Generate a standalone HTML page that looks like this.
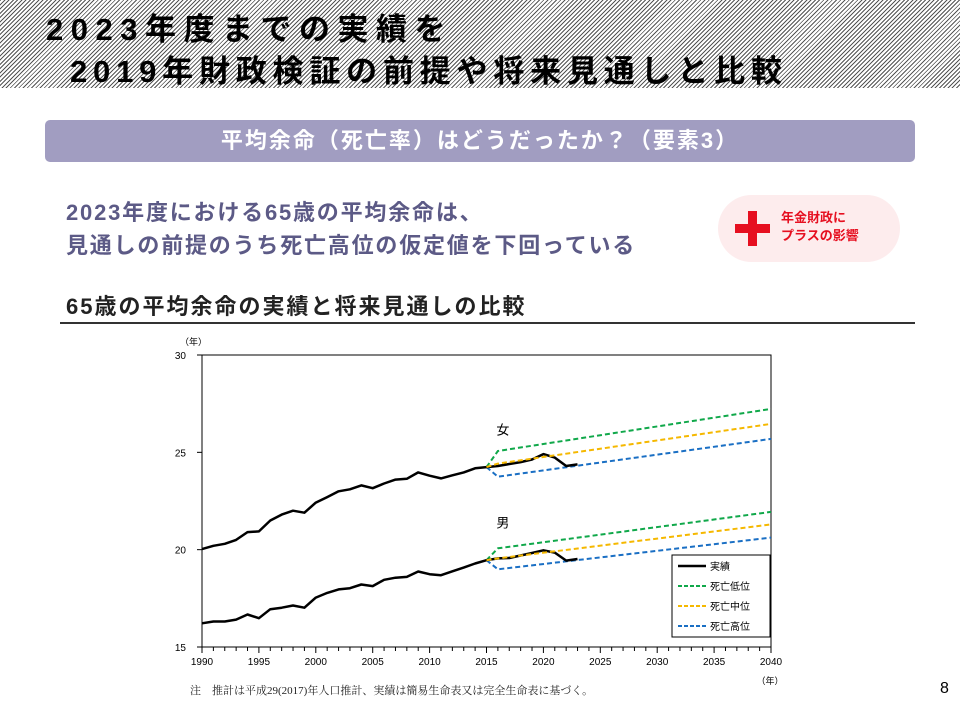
<!DOCTYPE html>
<html><head><meta charset="utf-8">
<style>
body{margin:0;width:960px;height:720px;position:relative;background:#fff;font-family:"Liberation Sans","Noto Sans CJK JP",sans-serif;overflow:hidden}
.abs{position:absolute}
#banner{left:0;top:0;width:960px;height:88px;background:repeating-linear-gradient(135deg,#555 0 1px,#fff 1px 3px)}
.tl{font-weight:bold;font-size:31px;color:#000;white-space:nowrap}
</style></head><body>
<div id="banner" class="abs"></div>
<div class="abs tl" style="left:46px;top:4px;letter-spacing:7.5px">2023年度までの実績を</div>
<div class="abs tl" style="left:70px;top:46px;letter-spacing:5.8px">2019年財政検証の前提や将来見通しと比較</div>
<div class="abs" style="left:45px;top:120px;width:870px;height:42px;background:#a19dc1;border-radius:5px;color:#fff;font-weight:bold;font-size:22px;line-height:42px;text-align:center;letter-spacing:2px">平均余命（死亡率）はどうだったか？（要素3）</div>
<div class="abs" style="left:66px;top:196px;font-size:22px;font-weight:bold;color:#5c5a86;line-height:33px;letter-spacing:1.8px;white-space:nowrap">2023年度における65歳の平均余命は、<br>見通しの前提のうち死亡高位の仮定値を下回っている</div>
<div class="abs" style="left:718px;top:195px;width:182px;height:67px;background:#fdeced;border-radius:34px">
 <div class="abs" style="left:17px;top:29px;width:35px;height:9px;background:#e60f20"></div>
 <div class="abs" style="left:30px;top:16px;width:9px;height:35px;background:#e60f20"></div>
 <div class="abs" style="left:63px;top:14px;color:#e60f20;font-size:13px;font-weight:bold;line-height:18px">年金財政に<br>プラスの影響</div>
</div>
<div class="abs" style="left:66px;top:289px;font-size:22px;font-weight:bold;color:#222;letter-spacing:2px;white-space:nowrap">65歳の平均余命の実績と将来見通しの比較</div>
<div class="abs" style="left:60px;top:322px;width:855px;height:2px;background:#333"></div>
<svg class="abs" style="left:0;top:0" width="960" height="720" id="chart"></svg>
<div class="abs" style="left:190px;top:682px;font-size:11px;font-family:'Liberation Serif','Noto Serif CJK SC',serif;color:#222">注　推計は平成29(2017)年人口推計、実績は簡易生命表又は完全生命表に基づく。</div>
<div class="abs" style="left:940px;top:680px;font-size:16px;color:#000">8</div>
<script>
const actualYears=[1990,1991,1992,1993,1994,1995,1996,1997,1998,1999,2000,2001,2002,2003,2004,2005,2006,2007,2008,2009,2010,2011,2012,2013,2014,2015,2016,2017,2018,2019,2020,2021,2022,2023];
const femaleActual=[20.03,20.2,20.3,20.5,20.9,20.94,21.5,21.8,22.0,21.9,22.42,22.7,23.0,23.1,23.3,23.16,23.4,23.6,23.64,23.97,23.8,23.66,23.82,23.97,24.18,24.24,24.3,24.4,24.5,24.63,24.91,24.73,24.3,24.38];
const maleActual=[16.22,16.31,16.31,16.41,16.67,16.48,16.94,17.02,17.13,17.02,17.54,17.78,17.96,18.02,18.21,18.13,18.45,18.56,18.6,18.88,18.74,18.69,18.89,19.08,19.29,19.46,19.55,19.57,19.7,19.83,19.97,19.85,19.44,19.52];
const projYears=[2015,2016,2040];
const femaleLow=[24.24,25.07,27.23];
const femaleMid=[24.24,24.42,26.46];
const femaleHigh=[24.24,23.75,25.69];
const maleLow=[19.46,20.07,21.94];
const maleMid=[19.46,19.55,21.3];
const maleHigh=[19.46,18.99,20.62];
const yTicks=[15,20,25,30];
const xTicks=[1990,1995,2000,2005,2010,2015,2020,2025,2030,2035,2040];
const legendLabels=['実績','死亡低位','死亡中位','死亡高位'];

const NS='http://www.w3.org/2000/svg';
const svg=document.getElementById('chart');
const L=202,R=771,T=355,B=647;
const X=y=>L+(y-1990)/(2040-1990)*(R-L);
const Y=v=>B-(v-15)/(30-15)*(B-T);
function el(tag,attrs,parent){const e=document.createElementNS(NS,tag);for(const k in attrs)e.setAttribute(k,attrs[k]);(parent||svg).appendChild(e);return e;}
function txt(s,x,y,size,anchor,name){const t=el('text',{x:x,y:y,'font-size':size,'text-anchor':anchor||'start',fill:'#000','font-family':'"Liberation Sans","Noto Sans CJK JP",sans-serif'});t.textContent=s;


return t;}
const frame=el('rect',{x:L,y:T,width:R-L,height:B-T,fill:'none',stroke:'#000','stroke-width':1});


yTicks.forEach(v=>{el('line',{x1:L-5,x2:L,y1:Y(v),y2:Y(v),stroke:'#000'});txt(String(v),L-16,Y(v)+4,10,'end','y-tick-label');});
for(let y=1990;y<=2040;y++){el('line',{x1:X(y),x2:X(y),y1:B,y2:B+(y%5===0?6:4),stroke:'#000'});}
xTicks.forEach(y=>txt(String(y),X(y),B+18,10,'middle','x-tick-label'));
txt('（年）',180,345,9,'start','y-axis-unit');
txt('（年）',770,684,9,'middle','x-axis-unit');
function line(xs,vs,color,dash,w,name){const d=xs.map((x,i)=>(i?'L':'M')+X(x).toFixed(1)+','+Y(vs[i]).toFixed(1)).join('');const p=el('path',{d:d,fill:'none',stroke:color,'stroke-width':w,'stroke-dasharray':dash||'none','stroke-linejoin':'round'});

}
const G='#10a84a',Yc='#f5b800',Bl='#1a6fc4';
line(projYears,femaleLow,G,'5,3',2,'female-low-mortality');
line(projYears,femaleHigh,Bl,'5,3',2,'female-high-mortality');
line(projYears,maleLow,G,'5,3',2,'male-low-mortality');
line(projYears,maleHigh,Bl,'5,3',2,'male-high-mortality');
line(actualYears,femaleActual,'#000',null,2.5,'female-actual');
line(actualYears,maleActual,'#000',null,2.5,'male-actual');
line(projYears,femaleMid,Yc,'5,3',2,'female-mid-mortality');
line(projYears,maleMid,Yc,'5,3',2,'male-mid-mortality');
txt('女',X(2016)+5,Y(25)-18,13,'middle','female-label');
txt('男',X(2016)+5,Y(20)-22,13,'middle','male-label');
const lg=el('rect',{x:672,y:555,width:98,height:82,fill:'#fff',stroke:'#000','stroke-width':1});


const lc=['#000',G,Yc,Bl];
legendLabels.forEach((s,i)=>{const yy=566+i*20;el('line',{x1:678,x2:706,y1:yy,y2:yy,stroke:lc[i],'stroke-width':i?2:2.5,'stroke-dasharray':i?'4,2':'none'});txt(s,710,yy+4,10,'start','legend-entry');});
</script>
</body></html>
